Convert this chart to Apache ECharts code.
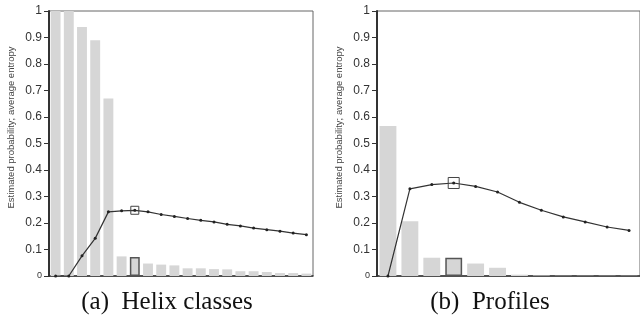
<!DOCTYPE html>
<html>
<head>
<meta charset="utf-8">
<script src="https://cdn.jsdelivr.net/npm/echarts@6/dist/echarts.min.js"></script>
<style>
  html, body { margin: 0; padding: 0; background: #fff; }
  #chart { width: 640px; height: 324px; }
</style>
</head>
<body>
<div id="chart"></div>
<script>
// helix classes (a)
var helixCats = ['1','2','3','4','5','6','7','8','9','10','11','12','13','14','15','16','17','18','19','20'];
var helixProb = [1.0, 1.0, 0.94, 0.89, 0.67, 0.074, 0.072, 0.047, 0.043, 0.040, 0.029, 0.029, 0.026, 0.025, 0.018, 0.018, 0.015, 0.011, 0.011, 0.009];
var helixEntropy = [0, 0, 0.076, 0.142, 0.242, 0.246, 0.248, 0.242, 0.232, 0.225, 0.217, 0.210, 0.204, 0.195, 0.189, 0.181, 0.175, 0.169, 0.162, 0.156];
var helixBest = 6;

// profiles (b)
var profCats = ['1','2','3','4','5','6','7','8','9','10','11','12'];
var profProb = [0.566, 0.207, 0.069, 0.069, 0.047, 0.031, 0.005, 0.002, 0.001, 0.001, 0.001, 0.001];
var profEntropy = [0, 0.329, 0.345, 0.351, 0.338, 0.317, 0.278, 0.248, 0.223, 0.204, 0.185, 0.172];
var profBest = 3;

var captions = ['(a)  Helix classes', '(b)  Profiles'];

var myChart = echarts.init(document.getElementById('chart'));

function yAxisFor(idx) {
  return {
    gridIndex: idx,
    type: 'value',
    min: 0,
    max: 1,
    interval: 0.1,
    name: 'Estimated probability; average entropy',
    nameLocation: 'middle',
    nameGap: 33,
    nameTextStyle: { fontFamily: 'Liberation Sans', fontSize: 9.5, color: '#444', padding: [0, 0, 0, 32] },
    axisLine: { show: true, lineStyle: { color: '#333', width: 2 } },
    axisTick: { show: true, length: 5, lineStyle: { color: '#333' } },
    axisLabel: {
      margin: 7,
      fontFamily: 'Liberation Sans',
      fontSize: 12,
      color: '#333',
      formatter: function (v) {
        return v === 0 ? '{s|0}' : String(Math.round(v * 10) / 10);
      },
      rich: { s: { fontSize: 9, fontFamily: 'Liberation Sans', color: '#333' } }
    },
    splitLine: { show: false }
  };
}

function xAxisFor(idx, cats) {
  return {
    gridIndex: idx,
    type: 'category',
    data: cats,
    axisLine: { show: true, lineStyle: { color: '#333', width: 1.5 } },
    axisTick: { show: false },
    axisLabel: { show: false }
  };
}

function barData(vals, best) {
  return vals.map(function (v, i) {
    if (i === best) {
      return { value: v, itemStyle: { borderColor: '#555', borderWidth: 1.5 } };
    }
    return v;
  });
}

function lineSeries(idx, vals, best, boxSize) {
  return {
    type: 'line',
    xAxisIndex: idx,
    yAxisIndex: idx,
    data: vals,
    symbol: 'circle',
    symbolSize: 3,
    lineStyle: { color: '#333', width: 1.2 },
    itemStyle: { color: '#222' },
    z: 3,
    markPoint: {
      symbol: 'rect',
      symbolSize: boxSize,
      label: { show: false },
      itemStyle: { color: 'rgba(0,0,0,0)', borderColor: '#444', borderWidth: 1 },
      data: [{ coord: [best, vals[best]] }]
    }
  };
}

var captionStyle = { fontFamily: 'Liberation Serif', fontSize: 25, fontWeight: 'normal', color: '#111' };

var option = {
  animation: false,
  title: [
    { text: captions[0], left: 167, top: 290, textAlign: 'center', padding: 0, textStyle: captionStyle },
    { text: captions[1], left: 490, top: 290, textAlign: 'center', padding: 0, textStyle: captionStyle }
  ],
  grid: [
    { left: 49, top: 11, width: 264, height: 265, show: true, borderColor: '#666', borderWidth: 1 },
    { left: 377, top: 11, width: 266, height: 265, show: true, borderColor: '#666', borderWidth: 1 }
  ],
  xAxis: [xAxisFor(0, helixCats), xAxisFor(1, profCats)],
  yAxis: [yAxisFor(0), yAxisFor(1)],
  series: [
    {
      type: 'bar',
      xAxisIndex: 0,
      yAxisIndex: 0,
      data: barData(helixProb, helixBest),
      barCategoryGap: '25%',
      itemStyle: { color: '#d6d6d6' }
    },
    lineSeries(0, helixEntropy, helixBest, 8),
    {
      type: 'bar',
      xAxisIndex: 1,
      yAxisIndex: 1,
      data: barData(profProb, profBest),
      barCategoryGap: '23%',
      itemStyle: { color: '#d6d6d6' }
    },
    lineSeries(1, profEntropy, profBest, 11)
  ]
};

myChart.setOption(option);
</script>
</body>
</html>
